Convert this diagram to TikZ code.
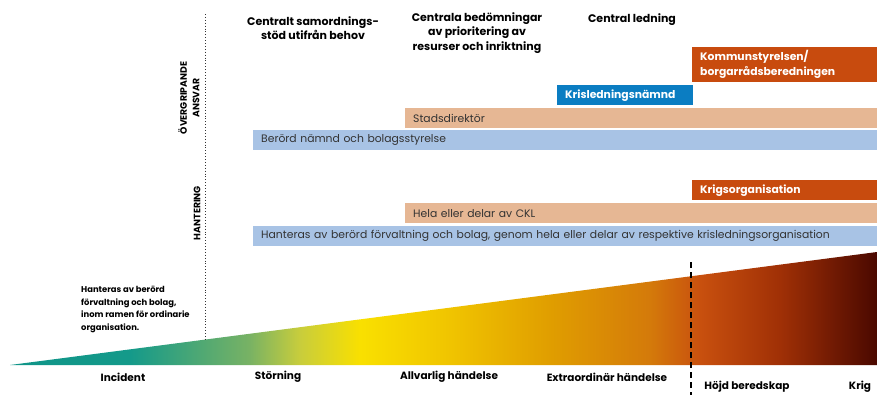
\documentclass[tikz,border=0pt]{standalone}
\usepackage{fontspec}
\setmainfont{Poppins}
\definecolor{darkor}{HTML}{C84B0E}
\definecolor{knblue}{HTML}{0B7DC2}
\definecolor{peach}{HTML}{E6B794}
\definecolor{lblue}{HTML}{A8C3E5}
\definecolor{bartext}{HTML}{333333}
\definecolor{wA}{RGB}{15,148,136}
\definecolor{wB}{RGB}{20,154,138}
\definecolor{wC}{RGB}{120,178,100}
\definecolor{wD}{RGB}{200,205,60}
\definecolor{wE}{RGB}{249,224,0}
\definecolor{wF}{RGB}{240,196,0}
\definecolor{wG}{RGB}{224,158,0}
\definecolor{wH}{RGB}{212,122,10}
\definecolor{wI}{RGB}{200,80,14}
\definecolor{wJ}{RGB}{160,48,6}
\definecolor{wK}{RGB}{74,8,0}
\pgfdeclarehorizontalshading{wedge}{100bp}{%
color(0bp)=(wA);
color(25bp)=(wA);
color(31.9bp)=(wB);
color(38.8bp)=(wC);
color(41.7bp)=(wD);
color(45.2bp)=(wE);
color(50.4bp)=(wF);
color(56.1bp)=(wG);
color(61.9bp)=(wH);
color(64.8bp)=(wI);
color(69.4bp)=(wJ);
color(75bp)=(wK);
color(100bp)=(wK)}
\tikzset{
  hdr/.style={font=\fontsize{11}{14.5}\selectfont\bfseries, align=center, inner sep=0pt},
  bot/.style={font=\fontsize{10.5}{12}\selectfont\bfseries, inner sep=0pt},
  side/.style={font=\fontsize{9.3}{12.5}\selectfont\bfseries, align=center, inner sep=0pt, rotate=90},
  bar/.style={anchor=north west, inner xsep=8pt, inner ysep=0pt, align=left, font=\fontsize{10.8}{12}\selectfont, text=bartext},
  darkbar/.style={bar, fill=darkor, text=white, font=\fontsize{10.8}{15}\selectfont\bfseries},
}
\begin{document}
\begin{tikzpicture}[x=1pt,y=-1pt]
\useasboundingbox (0,0) rectangle (877,394);
% wedge
\shade[shading=wedge] (10,365) -- (877,252) -- (877,365) -- cycle;
% dotted divider
\coordinate (dtop) at (205,14);
\coordinate (dbot) at (205,340);
\draw[dotted, line width=0.9pt, black!80] (dtop) -- (dbot);
% dashed divider
\coordinate (dashtop) at (691,262);
\coordinate (dashbot) at (691,396);
\draw[line width=2.2pt, dash pattern=on 6pt off 4pt] (dashtop) -- (dashbot);
% side labels
\node[side] (ova) at (189,98) {ÖVERGRIPANDE\\ANSVAR};
\node[side] (hant) at (197,213) {HANTERING};
% headers
\node[hdr] (h1) at (313,28) {Centralt samordnings-\\stöd utifrån behov};
\node[hdr] (h2) at (477,33) {Centrala bedömningar\\av prioritering av\\resurser och inriktning};
\node[hdr] (h3) at (632,20) {Central ledning};
% bars
\node[darkbar, minimum width=185pt, minimum height=35pt, text width=169pt] (ks) at (692,47) {Kommunstyrelsen/\\borgarrådsberedningen};
\node[bar, fill=knblue, text=white, font=\fontsize{10.8}{12}\selectfont\bfseries, minimum width=136pt, minimum height=20pt, text width=120pt] (kln) at (557,85) {Krisledningsnämnd};
\node[bar, fill=peach, minimum width=472pt, minimum height=20pt, text width=456pt] (sd) at (405,108) {Stadsdirektör};
\node[bar, fill=lblue, minimum width=624pt, minimum height=20pt, text width=608pt] (bn) at (253,130) {Berörd nämnd och bolagsstyrelse};
\node[darkbar, minimum width=185pt, minimum height=20pt, text width=169pt] (ko) at (692,180) {Krigsorganisation};
\node[bar, fill=peach, minimum width=472pt, minimum height=20pt, text width=456pt] (ckl) at (405,203) {Hela eller delar av CKL};
\node[bar, fill=lblue, minimum width=624pt, minimum height=20pt, text width=608pt] (hb) at (253,226) {Hanteras av berörd förvaltning och bolag, genom hela eller delar av respektive krisledningsorganisation};
% small text
\node[anchor=north west, align=left, inner sep=0pt, font=\fontsize{8.4}{12.5}\selectfont\bfseries] (ord) at (81,286) {Hanteras av berörd\\förvaltning och bolag,\\inom ramen för ordinarie\\organisation.};
% bottom labels
\node[bot] (l1) at (123,377) {Incident};
\node[bot] (l2) at (278,377) {Störning};
\node[bot] (l3) at (449,377) {Allvarlig händelse};
\node[bot] (l4) at (607,377) {Extraordinär händelse};
\node[bot] (l5) at (747,387) {Höjd beredskap};
\node[bot] (l6) at (860,387) {Krig};
\end{tikzpicture}
\end{document}
